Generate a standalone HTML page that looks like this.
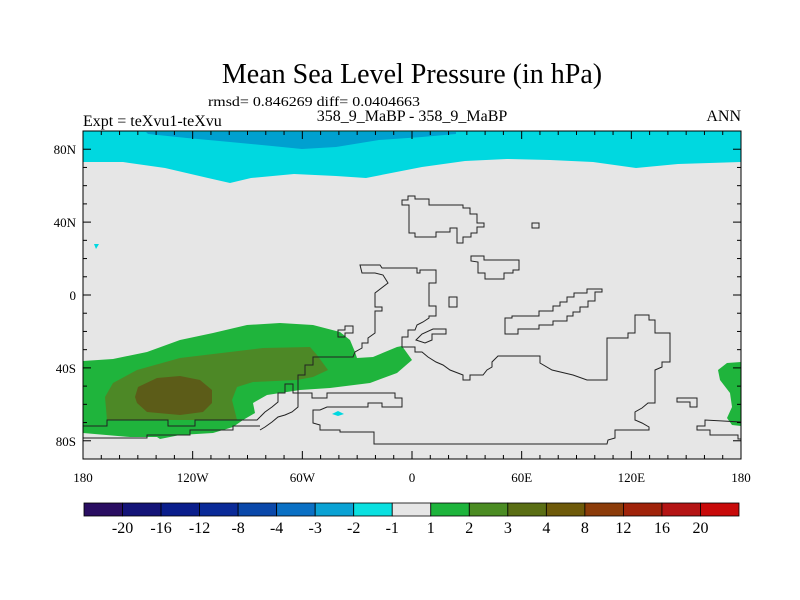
<!DOCTYPE html>
<html><head><meta charset="utf-8">
<style>
body{margin:0;background:#fff;}
svg{display:block;font-family:"Liberation Serif",serif;}
</style></head>
<body>
<svg id="chart" width="800" height="600" viewBox="0 0 800 600" xmlns="http://www.w3.org/2000/svg">
<rect width="800" height="600" fill="#fff"/>
<text x="412" y="83" font-size="28" text-anchor="middle">Mean Sea Level Pressure (in hPa)</text>
<text x="208" y="106" font-size="14" textLength="212" lengthAdjust="spacingAndGlyphs">rmsd= 0.846269 diff= 0.0404663</text>
<text x="412" y="121" font-size="16" text-anchor="middle">358_9_MaBP - 358_9_MaBP</text>
<text x="83" y="126" font-size="16">Expt = teXvu1-teXvu</text>
<text x="741" y="121" font-size="16" text-anchor="end">ANN</text>

<g>
<rect x="83" y="131" width="658" height="328" fill="#e6e6e6"/>
<path fill="#00d8e0" d="M83,131 L741,131 L741,162 L678,164 L636,168 L593,162 L550,160 L507,159 L465,161 L422,167 L366,178 L336,176 L294,174 L251,178 L230,183 L208,178 L165,168 L123,162 L83,162 Z"/>
<path fill="#00a0d0" d="M146,132 L456,132 L456,134 L422,137 L379,140 L336,147 L302,149 L272,146 L230,142 L187,138 L148,134 Z"/>
<path fill="#1fb43c" d="M83,361 L113,359 L147,352 L180,340 L213,333 L247,325 L280,323 L313,325 L340,332 L350,340 L355,352 L357,358 L373,357 L397,347 L402,346 L412,360 L397,373 L370,383 L330,388 L300,390 L267,395 L253,403 L255,413 L243,420 L233,427 L213,433 L180,435 L160,439 L157,437 L130,437 L83,433 Z"/>
<path fill="#1fb43c" d="M741,362 L727,363 L718,370 L720,380 L730,393 L732,407 L727,418 L732,425 L741,426 Z"/>
<path fill="#4d8826" d="M107,420 L105,397 L113,383 L137,370 L180,358 L230,352 L263,348 L310,347 L317,355 L328,370 L313,377 L297,380 L253,382 L237,387 L232,400 L237,420 Z"/>
<path fill="#5c5c18" d="M135,397 L138,387 L157,378 L180,376 L200,380 L212,390 L212,403 L203,412 L180,415 L147,412 L137,403 Z"/>
<path fill="#00d8e0" d="M94,244 L99,244 L96,249 Z"/>
<path fill="#00d8e0" d="M332,414 L338,411 L344,414 L338,416 Z"/>
</g>

<g fill="none" stroke="#222" stroke-width="1">
<path d="M360,265 L380,265 L382,268 L417,268 L417,273 L420,273 L420,270 L436,270 L436,283 L429,283 L429,306 L436,306 L436,316 L429,316 L429,318 L423,322 L417,325 L415,330 L408,330 L408,337 L402,337 L402,347 L415,347 L415,352 L422,352 L428,357 L436,362 L443,365 L450,370 L463,375 L463,380 L470,380 L470,375 L483,375 L487,370 L492,367 L492,362 L498,356 L540,356 L540,363 L552,370 L573,375 L587,380 L607,380 L607,338 L628,338 L628,333 L635,333 L635,315 L649,315 L649,320 L655,320 L655,333 L670,333 L670,362 L662,362 L662,367 L655,370 L655,403 L648,403 L642,408 L635,412 L635,420 L642,423 L649,427 L649,430 L615,430 L615,438 L608,440 L607,444 L374,444 L374,432 L340,432 L340,430 L320,430 L320,425 L313,423 L313,410 L320,410 L327,407 L368,407 L368,403 L382,403 L382,407 L402,407 L402,398 L395,398 L395,393 L327,393 L327,398 L312,398 L312,393 L298,393 L298,375 L305,375 L305,365 L313,365 L313,357 L353,357 L355,352 L362,348 L362,343 L368,343 L368,338 L375,333 L375,311 L382,311 L382,307 L375,307 L375,293 L388,283 L383,275 L375,273 L362,273 Z"/>
<path d="M260,417 L265,412 L272,407 L278,402 L278,393 L285,393 L285,384 L293,384 L293,393 L298,393 L298,407 L292,412 L285,415 L278,417 L272,422 L265,427 L260,430"/>
<path d="M83,426 L107,426 L107,420 L168,420 L168,426 L195,426 L195,420 L257,420 L260,417"/>
<path d="M83,438 L147,438 L147,435 L190,435 L190,430 L233,430 L233,426 L260,426"/>
<path d="M338,330 L345,330 L345,326 L353,326 L353,333 L345,333 L345,337 L338,337 Z"/>
<path d="M402,200 L408,200 L408,196 L415,196 L415,199 L429,199 L429,205 L463,205 L463,208 L470,208 L470,214 L477,214 L477,223 L484,223 L484,227 L477,227 L477,233 L471,233 L471,237 L463,237 L463,243 L457,243 L457,228 L450,228 L450,232 L436,232 L436,237 L415,237 L415,233 L409,233 L409,205 L402,205 Z"/>
<path d="M532,223 L539,223 L539,228 L532,228 Z"/>
<path d="M471,256 L484,256 L484,260 L519,260 L519,270 L513,270 L513,273 L504,273 L504,279 L485,279 L485,273 L478,273 L478,262 L471,261 Z"/>
<path d="M449,297 L457,297 L457,307 L449,307 Z"/>
<path d="M505,318 L512,318 L512,316 L539,316 L539,311 L553,311 L553,306 L560,306 L560,302 L567,302 L567,297 L574,297 L574,293 L587,293 L587,289 L602,289 L602,292 L595,292 L595,301 L588,301 L588,307 L580,307 L580,312 L573,312 L573,316 L567,316 L567,321 L553,321 L553,325 L539,325 L539,329 L518,329 L518,334 L505,334 Z"/>
<path d="M416,340 L422,334 L433,329 L446,329 L446,334 L432,334 L432,340 L425,343 Z"/>
<path d="M677,398 L697,398 L697,407 L690,407 L690,402 L677,402 Z"/>
<path d="M741,422 L705,420 L705,426 L697,426 L697,430 L710,430 L710,435 L738,435 L738,439 L741,439"/>
</g>

<rect x="83" y="131" width="658" height="328" fill="none" stroke="#000" stroke-width="1"/>
<g id="ticks" stroke="#000" stroke-width="1"></g>
<g id="labels" font-size="13"></g>
<g id="colorbar"></g>
</svg>
<script>
const latTicks = ["80N","40N","0","40S","80S"];
const latTickValues = [80,40,0,-40,-80];
const lonTicks = ["180","120W","60W","0","60E","120E","180"];
const lonTickValues = [-180,-120,-60,0,60,120,180];
const cbLevels = ["-20","-16","-12","-8","-4","-3","-2","-1","1","2","3","4","8","12","16","20"];
const cbColors = ["#2a0e62","#141478","#0a1e8c","#0a2a98","#0a48aa","#0a70c4","#0aa2d4","#0ae0e0","#e6e6e6","#1eb43c","#4b8c23","#5a6e14","#6e5a0a","#8c3c0a","#a0230a","#b41414","#c80a0a"];

const NS="http://www.w3.org/2000/svg";
const X0=83,X1=741,Y0=131,Y1=459;
function xLon(l){return X0+(l+180)/360*(X1-X0);}
function yLat(l){return Y0+(90-l)/180*(Y1-Y0);}
function mk(t,a){const e=document.createElementNS(NS,t);for(const k in a)e.setAttribute(k,a[k]);return e;}
const tk=document.getElementById('ticks'), lb=document.getElementById('labels'), cb=document.getElementById('colorbar');
for(let l=-180;l<=180;l+=10){
  const major=l%60===0, x=xLon(l), len=major?8:4;
  const a=mk('line',{x1:x,x2:x,y1:Y1,y2:Y1-len});
  
  
  tk.appendChild(a);
  const b=mk('line',{x1:x,x2:x,y1:Y0,y2:Y0+len});
  
  
  tk.appendChild(b);
}
for(let l=-90;l<=90;l+=10){
  const major=l%40===0, y=yLat(l), len=major?8:4;
  const a=mk('line',{x1:X0,x2:X0+len,y1:y,y2:y});
  
  
  tk.appendChild(a);
  const b=mk('line',{x1:X1,x2:X1-len,y1:y,y2:y});
  
  
  tk.appendChild(b);
}
latTicks.forEach((s,i)=>{
  const t=mk('text',{x:76,y:yLat(latTickValues[i])+5,'text-anchor':'end'});
  
  
  t.textContent=s;lb.appendChild(t);
});
lonTicks.forEach((s,i)=>{
  const t=mk('text',{x:xLon(lonTickValues[i]),y:482,'text-anchor':'middle'});
  
  
  t.textContent=s;lb.appendChild(t);
});
const CX0=84,CX1=739,CY=503,CH=13,bw=(CX1-CX0)/cbColors.length;
cbColors.forEach((c,i)=>{
  const r=mk('rect',{x:CX0+i*bw,y:CY,width:bw,height:CH,fill:c,stroke:'#000','stroke-width':0.8});
  
  
  cb.appendChild(r);
});
cbLevels.forEach((s,i)=>{
  const t=mk('text',{x:CX0+(i+1)*bw,y:533,'text-anchor':'middle','font-size':16});
  
  
  t.textContent=s;cb.appendChild(t);
});
</script>
</body></html>
